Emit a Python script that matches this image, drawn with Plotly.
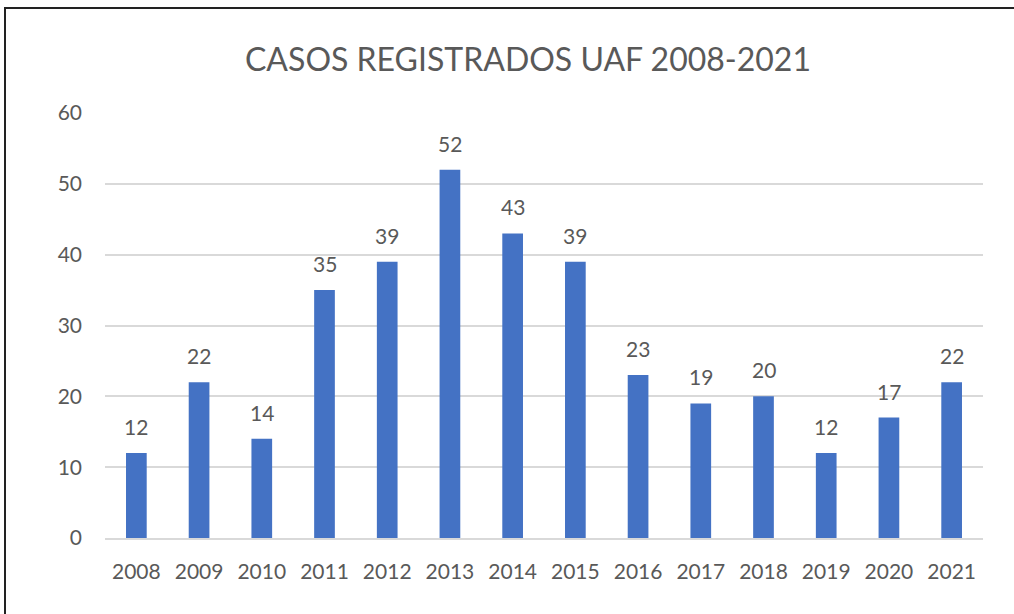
import plotly.graph_objects as go

years = ["2008", "2009", "2010", "2011", "2012", "2013", "2014", "2015",
         "2016", "2017", "2018", "2019", "2020", "2021"]
cases = [12, 22, 14, 35, 39, 52, 43, 39, 23, 19, 20, 12, 17, 22]
y_ticks = [0, 10, 20, 30, 40, 50, 60]

L, R, T, B = 105, 31, 113, 76
W = 1014 - L - R
H = 614 - T - B

fig = go.Figure(go.Bar(
    x=years, y=cases,
    marker=dict(color="#4472C4", line=dict(width=0)),
    width=0.33,
))

# annotation x given as category index so numeric-looking labels are not misread
annotations = [dict(x=i, y=v, text=str(v), showarrow=False, xanchor="center",
                    yanchor="bottom", yshift=12,
                    font=dict(size=21, color="#595959", family="Lato"))
               for i, v in enumerate(cases)]

fig.update_layout(
    width=1014, height=614,
    margin=dict(l=L, r=R, t=T, b=B),
    paper_bgcolor="white", plot_bgcolor="white",
    title=dict(text="CASOS REGISTRADOS UAF 2008-2021", x=528 / 1014, xanchor="center",
               y=1 - 60 / 614, yanchor="middle",
               font=dict(size=32, color="#595959", family="Lato")),
    font=dict(family="Lato", color="#595959", size=21),
    showlegend=False,
    annotations=annotations,
    xaxis=dict(type="category", range=[-0.5, len(years) - 0.5], showgrid=False,
               showline=True, linecolor="#D9D9D9",
               linewidth=1.5, ticks="", tickfont=dict(size=21, color="#595959"),
               ticklabelstandoff=14),
    yaxis=dict(range=[0, 60], tickvals=y_ticks, showgrid=True, gridcolor="#D9D9D9",
               gridwidth=1.5, zeroline=False, showline=False, ticks="",
               tickfont=dict(size=21, color="#595959"), ticklabelstandoff=22),
    shapes=[dict(type="rect", xref="paper", yref="paper",
                 x0=(5 - L) / W, x1=(1030 - L) / W,
                 y0=(538 - 640) / H, y1=(538 - 8) / H,
                 line=dict(color="#222222", width=2), fillcolor="rgba(0,0,0,0)")],
)

fig.write_html("out.html", config={"displayModeBar": False},
               post_script="document.body.style.margin='0';")
